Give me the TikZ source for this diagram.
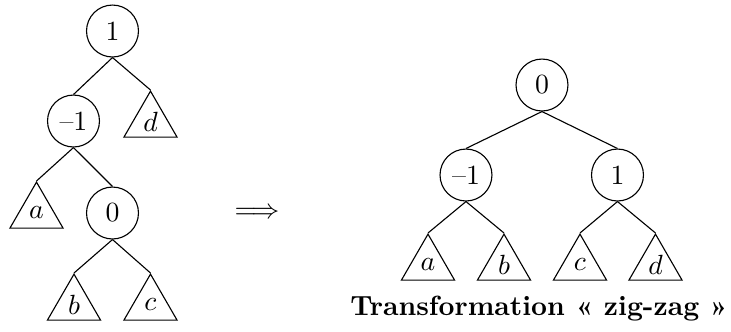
\documentclass[tikz,border=0pt]{standalone}
\usepackage{fontspec}
\usetikzlibrary{shapes.geometric}
\begin{document}
\begin{tikzpicture}[x=0.36pt,y=-0.36pt,
  knot/.style={circle,draw,minimum size=18.7pt,inner sep=0pt},
  subtree/.style={regular polygon,regular polygon sides=3,draw,minimum size=22.1pt,inner sep=0pt,anchor=corner 1}]
\useasboundingbox (0,0) rectangle (731,331);
% left tree
\node[knot] (L1) at (112.5,31) {1};
\node[knot] (Lm1) at (73.5,121) {--1};
\node[knot] (L0) at (112.5,213) {0};
\node[subtree] (Ld) at (150.5,90) {$d$};
\node[subtree] (La) at (36.5,181) {$a$};
\node[subtree] (Lb) at (74,273) {$b$};
\node[subtree] (Lc) at (150.5,273) {$c$};
\draw (L1.south) -- (Lm1.north);
\draw (L1.south) -- (Ld.corner 1);
\draw (Lm1.south) -- (La.corner 1);
\draw (Lm1.south) -- (L0.north);
\draw (L0.south) -- (Lb.corner 1);
\draw (L0.south) -- (Lc.corner 1);
% arrow
\node (arr) at (257,213) {$\Longrightarrow$};
% right tree
\node[knot] (R0) at (542,85) {0};
\node[knot] (Rm1) at (466,175) {--1};
\node[knot] (R1) at (617.5,175) {1};
\node[subtree] (Ra) at (428,233) {$a$};
\node[subtree] (Rb) at (504,233) {$b$};
\node[subtree] (Rc) at (580,233) {$c$};
\node[subtree] (Rd) at (655.5,233) {$d$};
\draw (R0.south) -- (Rm1.north);
\draw (R0.south) -- (R1.north);
\draw (Rm1.south) -- (Ra.corner 1);
\draw (Rm1.south) -- (Rb.corner 1);
\draw (R1.south) -- (Rc.corner 1);
\draw (R1.south) -- (Rd.corner 1);
% caption
\node[anchor=base] (cap) at (539,315) {\bfseries Transformation «~zig-zag~»};
\end{tikzpicture}
\end{document}
